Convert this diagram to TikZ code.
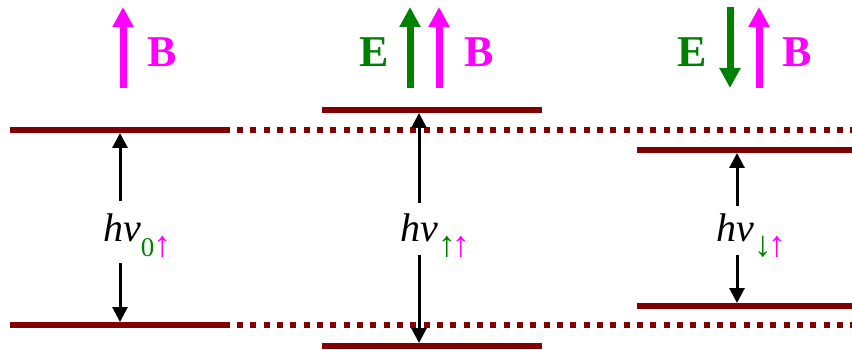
\documentclass[tikz,border=0pt]{standalone}
\usepackage{fontspec}
\setmainfont{Liberation Serif}
\usetikzlibrary{arrows.meta}
\definecolor{lvl}{HTML}{800000}
\definecolor{egreen}{HTML}{008000}
\definecolor{bmag}{HTML}{FF00FF}
\tikzset{
  level/.style={draw=lvl,line width=6pt},
  dotlevel/.style={draw=lvl,line width=6pt,dash pattern=on 6pt off 7.33pt},
  gap/.style={draw=black,line width=3pt,-{Triangle[width=15pt,length=15pt]}},
  field/.style={line width=7pt,-{Triangle[width=20pt,length=20pt]}},
  fieldlbl/.style={font=\fontsize{44}{44}\selectfont\bfseries,anchor=base,inner sep=0pt},
  hnu/.style={font=\fontsize{40}{40}\selectfont\itshape,anchor=base,inner sep=0pt,text height=26pt,text depth=0pt},
}
\newcommand{\subsc}[1]{\rlap{\raisebox{-15pt}{\upshape #1}}}
\newcommand{\zero}{{\fontsize{27}{27}\selectfont 0}}
\newcommand{\uparr}{{\fontsize{36}{36}\selectfont ↑}}
\newcommand{\dnarr}{{\fontsize{36}{36}\selectfont ↓}}
\begin{document}
\begin{tikzpicture}[x=1pt,y=-1pt]
\useasboundingbox (0,0) rectangle (852,350);
% dotted reference levels
\draw[dotlevel] (237,130) -- (852,130);
\draw[dotlevel] (237,325) -- (852,325);
% left levels
\draw[level] (10,130) -- (230,130);
\draw[level] (10,325) -- (230,325);
% middle levels
\draw[level] (322,110) -- (542,110);
\draw[level] (322,346) -- (542,346);
% right levels
\draw[level] (637,150) -- (852,150);
\draw[level] (637,306) -- (852,306);
% tip coordinates
\coordinate (t1) at (120,133);
\coordinate (b1) at (120,322);
\coordinate (t2) at (419,113);
\coordinate (b2) at (419,343);
\coordinate (t3) at (737,153);
\coordinate (b3) at (737,303);
% labels
\node[hnu] (h1) at (122,241) {hν\subsc{\textcolor{egreen}{\zero}\kern-1pt\textcolor{bmag}{\uparr}}};
\node[hnu] (h2) at (419,241) {hν\subsc{\textcolor{egreen}{\uparr}\kern-4pt\textcolor{bmag}{\uparr}}};
\node[hnu] (h3) at (735,241) {hν\subsc{\textcolor{egreen}{\dnarr}\kern-4pt\textcolor{bmag}{\uparr}}};
% gap arrows
\draw[gap] ([xshift=-2pt,yshift=14pt]h1.north) -- (t1);
\draw[gap] ([xshift=-2pt,yshift=-22pt]h1.south) -- (b1);
\draw[gap] ([yshift=12pt]h2.north) -- (t2);
\draw[gap] ([yshift=-14pt]h2.south) -- (b2);
\draw[gap] ([xshift=2pt,yshift=9pt]h3.north) -- (t3);
\draw[gap] ([xshift=2pt,yshift=-14pt]h3.south) -- (b3);
% field arrows
\draw[field,draw=bmag,fill=bmag] (123,88) -- (123,7);
\node[fieldlbl,text=bmag] (B1) at (162,67) {B};
\draw[field,draw=egreen,fill=egreen] (410,88) -- (410,7);
\draw[field,draw=bmag,fill=bmag] (439,88) -- (439,7);
\node[fieldlbl,text=egreen] (E2) at (374,67) {E};
\node[fieldlbl,text=bmag] (B2) at (479,67) {B};
\draw[field,draw=egreen,fill=egreen] (730,7) -- (730,88);
\draw[field,draw=bmag,fill=bmag] (759,88) -- (759,7);
\node[fieldlbl,text=egreen] (E3) at (692,67) {E};
\node[fieldlbl,text=bmag] (B3) at (797,67) {B};
\end{tikzpicture}
\end{document}
